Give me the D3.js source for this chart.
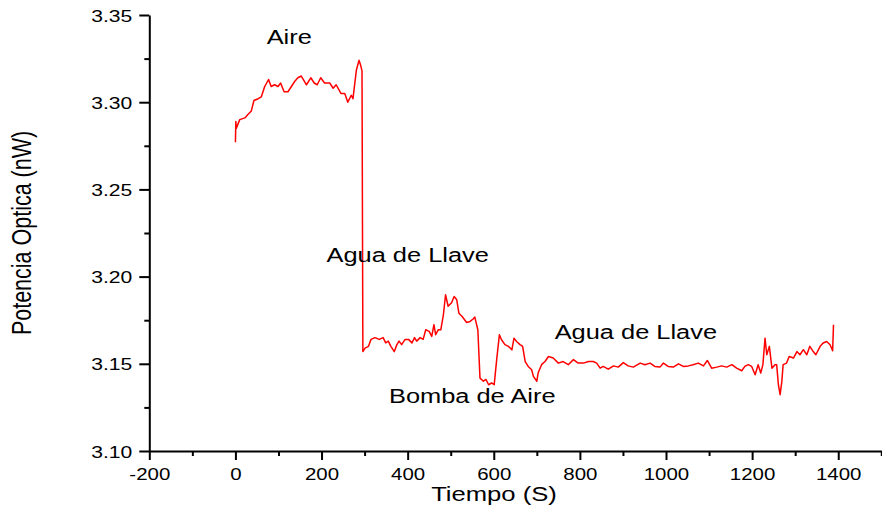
<!DOCTYPE html>
<html>
<head>
<meta charset="utf-8">
<script src="https://cdn.jsdelivr.net/npm/d3@7"></script>
<style>
    body { margin: 0; background: #fff; }
    .chart text { font-family: "Liberation Sans", Arial, sans-serif; fill: #000; }
</style>
</head>
<body>
<div class="chart"></div>
<script>
// tiempo (s) and potencia optica (nW)
const tiempo = [
    0, 1, 2, 10, 22, 29, 37, 43, 53, 60, 68, 77, 83, 91, 99, 105, 113, 122, 130, 138,
    145, 153, 165, 175, 183, 190, 198, 207, 219, 227, 234, 245, 254, 261, 269, 273, 281, 287, 291, 294,
    296, 301, 309, 315, 324, 334, 343, 349, 355, 361, 369, 375, 380, 386, 394, 402, 410, 416, 421, 429,
    436, 442, 450, 456, 461, 465, 471, 477, 483, 488, 494, 502, 508, 514, 519, 527, 537, 545, 552, 556,
    563, 568, 576, 582, 588, 595, 601, 607, 613, 618, 626, 634, 642, 647, 653, 661, 667, 673, 680, 688,
    692, 700, 703, 711, 719, 727, 738, 750, 761, 773, 785, 796, 808, 820, 831, 839, 847, 854, 866, 878,
    889, 901, 912, 924, 940, 951, 963, 974, 986, 994, 1005, 1017, 1029, 1040, 1052, 1063, 1075, 1087, 1096, 1106,
    1118, 1129, 1141, 1153, 1164, 1176, 1183, 1191, 1199, 1207, 1214, 1220, 1225, 1230, 1234, 1240, 1246, 1253, 1257, 1261,
    1265, 1269, 1272, 1280, 1286, 1296, 1304, 1311, 1319, 1327, 1334, 1342, 1348, 1358, 1365, 1373, 1381, 1387, 1389
];
const potencia = [
    3.277, 3.289, 3.285, 3.290, 3.291, 3.293, 3.295, 3.301, 3.302, 3.303, 3.309, 3.313, 3.309, 3.310, 3.309, 3.311, 3.306, 3.306, 3.309, 3.312,
    3.314, 3.315, 3.310, 3.314, 3.311, 3.310, 3.314, 3.311, 3.311, 3.308, 3.310, 3.305, 3.305, 3.300, 3.304, 3.302, 3.3185, 3.324, 3.321, 3.318,
    3.157, 3.159, 3.160, 3.164, 3.165, 3.164, 3.165, 3.162, 3.163, 3.160, 3.157, 3.161, 3.163, 3.161, 3.164, 3.164, 3.162, 3.165, 3.163, 3.165,
    3.164, 3.1695, 3.1686, 3.1657, 3.1724, 3.1667, 3.1695, 3.1695, 3.178, 3.1896, 3.183, 3.185, 3.1886, 3.1867, 3.179, 3.177, 3.1737, 3.1743, 3.1757, 3.1768,
    3.1695, 3.1418, 3.140, 3.141, 3.138, 3.139, 3.138, 3.153, 3.1666, 3.1638, 3.161, 3.160, 3.158, 3.1647, 3.1628, 3.161, 3.160, 3.1513, 3.1485, 3.1466,
    3.1428, 3.140, 3.1447, 3.1495, 3.1513, 3.1542, 3.1533, 3.1504, 3.1513, 3.1495, 3.1524, 3.1504, 3.1504, 3.1513, 3.1513, 3.1504, 3.1475, 3.1485, 3.1469, 3.1488,
    3.1481, 3.1507, 3.1488, 3.1481, 3.1504, 3.1495, 3.1504, 3.1485, 3.1481, 3.1504, 3.1485, 3.1481, 3.150, 3.1485, 3.1488, 3.1495, 3.1504, 3.1488, 3.1519, 3.1475,
    3.1481, 3.1488, 3.1481, 3.1495, 3.1475, 3.146, 3.1485, 3.1495, 3.1485, 3.1437, 3.1495, 3.1447, 3.1495, 3.1647, 3.1552, 3.160, 3.1475, 3.1495, 3.1495, 3.138,
    3.1323, 3.1399, 3.1495, 3.1504, 3.1542, 3.1533, 3.157, 3.1552, 3.1581, 3.1552, 3.160, 3.157, 3.1552, 3.160, 3.1619, 3.1628, 3.1609, 3.1575, 3.1724
];

const xTicks = [-200, 0, 200, 400, 600, 800, 1000, 1200, 1400];
const xMinor = [-100, 100, 300, 500, 700, 900, 1100, 1300, 1500];
const yTicks = [3.10, 3.15, 3.20, 3.25, 3.30, 3.35];
const yMinor = [3.125, 3.175, 3.225, 3.275, 3.325];

const notas = ['Aire', 'Agua de Llave', 'Agua de Llave', 'Bomba de Aire'];
const notaT = [125, 400, 930, 550];
const notaV = [3.3335, 3.2085, 3.1645, 3.1275];

const fullWidth = 882;
const fullHeight = 507;
const stretch = 1.25; // text in the reference is widened

const svg = d3.select('.chart')
    .append('svg')
        .attr('width', fullWidth)
        .attr('height', fullHeight);

const xScale = d3.scaleLinear()
    .domain([-200, 1500])
    .range([149.3, 881.3]);

const yScale = d3.scaleLinear()
    .domain([3.10, 3.35])
    .range([451, 15]);

function widen(sel, k = stretch) {
    sel.each(function() {
        const t = d3.select(this);
        const x = +t.attr('x') || 0;
        const y = +t.attr('y') || 0;
        t.attr('x', 0).attr('y', 0)
            .attr('transform', `translate(${x}, ${y}) scale(${k}, 1)`);
    });
}

// minor ticks
svg.append('g')
        .attr('transform', `translate(0, ${yScale(3.10)})`)
    .call(d3.axisBottom(xScale).tickValues(xMinor).tickSize(5).tickSizeOuter(0).tickFormat(''))
    .call(g => g.select('.domain').remove());
svg.append('g')
        .attr('transform', `translate(${xScale(-200)}, 0)`)
    .call(d3.axisLeft(yScale).tickValues(yMinor).tickSize(5).tickSizeOuter(0).tickFormat(''))
    .call(g => g.select('.domain').remove());

// main axes
const xAxis = svg.append('g')
        .attr('transform', `translate(0, ${yScale(3.10)})`)
    .call(d3.axisBottom(xScale)
        .tickValues(xTicks)
        .tickSize(9)
        .tickSizeOuter(0)
        .tickFormat(d => String(d)));
xAxis.selectAll('text')
    .attr('font-size', 16.5)
    .attr('dy', null)
    .attr('y', 29)
    .call(widen, 1.24);

const yAxis = svg.append('g')
        .attr('transform', `translate(${xScale(-200)}, 0)`)
    .call(d3.axisLeft(yScale)
        .tickValues(yTicks)
        .tickSize(10)
        .tickSizeOuter(0)
        .tickPadding(7)
        .tickFormat(d3.format('.2f')));
yAxis.selectAll('text')
    .attr('font-size', 16.5)
    .attr('dy', null)
    .attr('y', 6)
    .call(widen, 1.28);

svg.selectAll('.domain, .tick line')
    .attr('stroke', '#000')
    .attr('stroke-width', 2);

// trace
const puntos = tiempo.map((t, i) => [t, potencia[i]]);
const line = d3.line()
    .x(d => xScale(d[0]))
    .y(d => yScale(d[1]));

svg.append('path')
    .datum(puntos)
    .attr('fill', 'none')
    .attr('stroke', '#ff0000')
    .attr('stroke-width', 1.5)
    .attr('stroke-linejoin', 'round')
    .attr('d', line);

// annotations
svg.selectAll('.nota')
    .data(notas)
    .enter()
    .append('text')
    .attr('class', 'nota')
    .attr('text-anchor', 'middle')
    .attr('font-size', 20)
    .attr('x', (d, i) => xScale(notaT[i]))
    .attr('y', (d, i) => yScale(notaV[i]))
    .text(d => d)
    .call(widen, 1.27);

// axis titles
svg.append('text')
    .attr('text-anchor', 'middle')
    .attr('font-size', 20.5)
    .attr('x', 494)
    .attr('y', 501)
    .text('Tiempo (S)')
    .call(widen);

svg.append('text')
    .attr('text-anchor', 'middle')
    .attr('font-size', 21.5)
    .attr('transform', `translate(31, 233) scale(${stretch}, 1) rotate(-90)`)
    .text('Potencia Optica (nW)');
</script>
</body>
</html>
